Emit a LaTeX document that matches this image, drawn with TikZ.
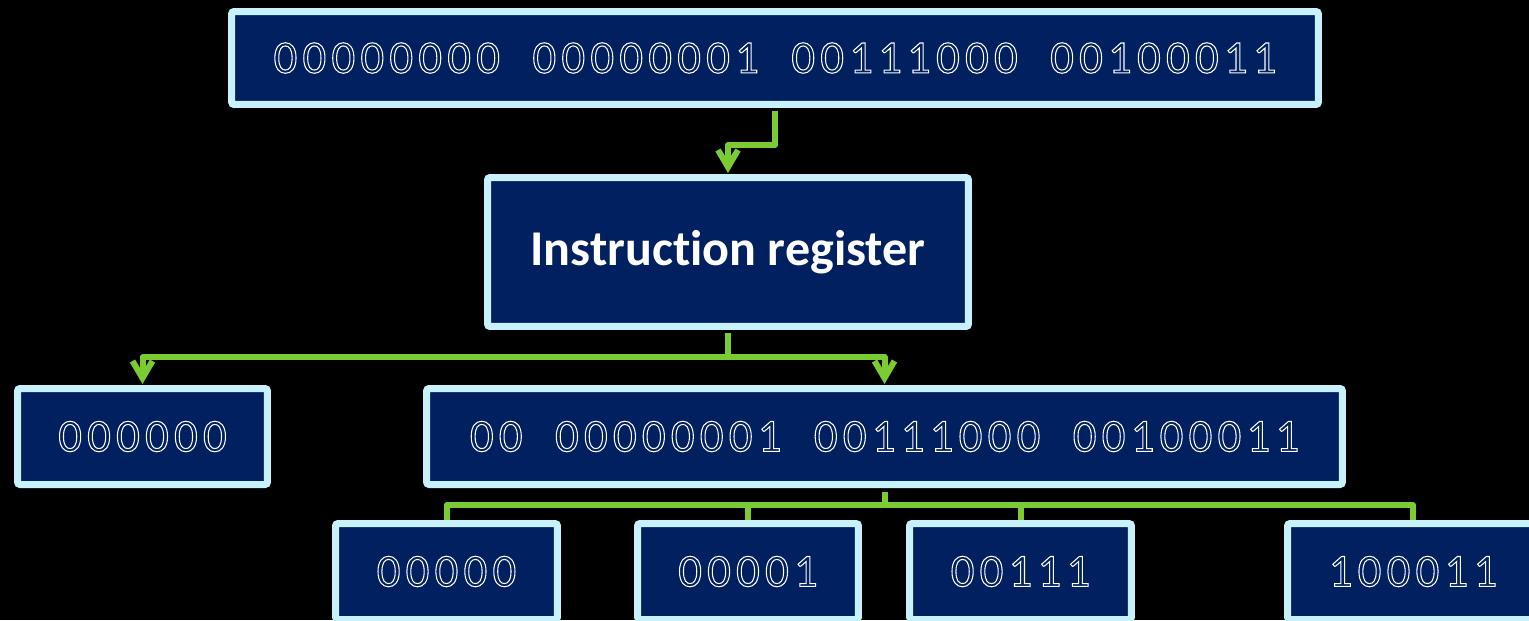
\documentclass[tikz,border=0pt]{standalone}
\usepackage{fontspec}
\newfontfamily\digfont[LetterSpace=11.5, WordSpace={2.05,0,0}]{Carlito}
\newfontfamily\labfont[Ligatures=NoCommon]{Carlito}
\definecolor{boxfill}{RGB}{0,32,96}
\definecolor{boxedge}{RGB}{198,241,253}
\definecolor{linkgreen}{RGB}{122,204,50}
% outlined digits: stroke the glyph contours instead of filling them
\newcommand\hollow[1]{\special{pdf:literal direct 1 Tr 0.6 w}#1\special{pdf:literal direct 0 Tr}}
\tikzset{
  bitbox/.style={draw=boxedge, fill=boxfill, line width=0.14cm, rounded corners=0.05cm,
    inner sep=0pt, text=white, font=\digfont\fontsize{26.5}{32}\selectfont},
  link/.style={draw=linkgreen, line width=0.12cm, line join=round, shorten <=0.07cm},
  chev/.style={draw=linkgreen, line width=0.12cm, line join=miter, line cap=butt}
}
% open V arrowhead sitting on top of a node
\newcommand\chevron[1]{%
  \draw[chev] ([shift={(-10,-24)}]#1) -- ([shift={(0,-7)}]#1) -- ([shift={(10,-24)}]#1);}
\begin{document}
\begin{tikzpicture}[x=0.02cm, y=-0.02cm]
  \fill[black] (0,0) rectangle (1529,620);
  \useasboundingbox (0,0) rectangle (1529,620);

  % full 32-bit word
  \node[bitbox, minimum width=21.74cm, minimum height=1.86cm] (word) at (775,58)
    {\hollow{00000000 00000001 00111000 00100011}};

  % instruction register
  \node[bitbox, minimum width=9.62cm, minimum height=2.98cm,
        font=\labfont\bfseries\fontsize{28.5}{34}\selectfont] (ir) at (728,252)
    {Instruction register};

  % opcode and remainder
  \node[bitbox, minimum width=5.0cm, minimum height=1.92cm] (op) at (142.5,436.5) {\hollow{000000}};
  \node[bitbox, minimum width=18.32cm, minimum height=1.92cm] (rest) at (884.5,436.5)
    {\hollow{00 00000001 00111000 00100011}};

  % fields
  \node[bitbox, minimum width=4.44cm, minimum height=1.92cm] (f1) at (446.5,571.5) {\hollow{00000}};
  \node[bitbox, minimum width=4.42cm, minimum height=1.92cm] (f2) at (748,571.5) {\hollow{00001}};
  \node[bitbox, minimum width=4.44cm, minimum height=1.92cm] (f3) at (1020.5,571.5) {\hollow{00111}};
  \node[bitbox, minimum width=5.02cm, minimum height=1.92cm] (f4) at (1413,571.5) {\hollow{100011}};

  % word -> instruction register
  \draw[link] (word.south) -- ++(0,37) -| ([yshift=0.16cm]ir.north);
  \chevron{ir.north}

  % instruction register -> opcode / remainder
  \draw[link] (ir.south) -- ++(0,27) coordinate (split);
  \draw[link, shorten <=0pt] (split) -| ([yshift=0.16cm]op.north);
  \draw[link, shorten <=0pt] (split) -| ([yshift=0.16cm]rest.north);
  \chevron{op.north}
  \chevron{rest.north}

  % remainder -> fields
  \draw[link] (rest.south) -- ++(0,17) coordinate (fan);
  \draw[link, shorten <=0pt] (fan) -| (f1.north);
  \draw[link, shorten <=0pt] (fan) -| (f2.north);
  \draw[link, shorten <=0pt] (fan) -| (f3.north);
  \draw[link, shorten <=0pt] (fan) -| (f4.north);
\end{tikzpicture}
\end{document}
